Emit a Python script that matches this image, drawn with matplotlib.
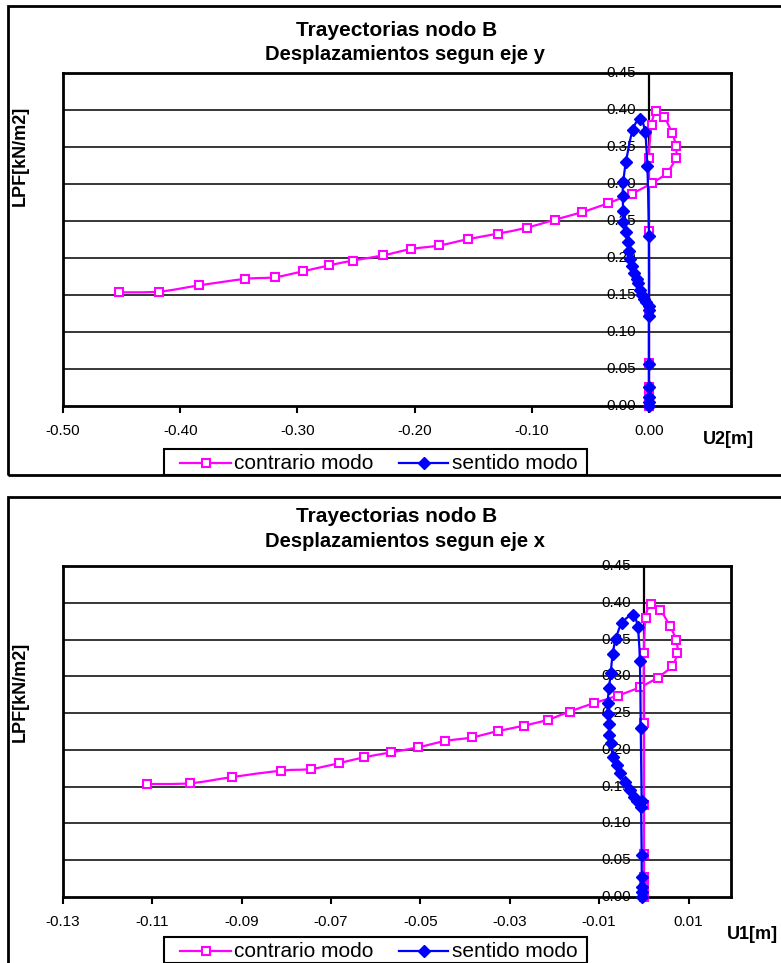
import numpy as np
import matplotlib
matplotlib.use("Agg")
import matplotlib.pyplot as plt
from matplotlib.lines import Line2D
from matplotlib.patches import Rectangle, PathPatch
from matplotlib.path import Path
from matplotlib.transforms import offset_copy

plt.rcParams['font.family'] = ['Liberation Sans', 'DejaVu Sans']

# ---------------- data ----------------
title = "Trayectorias nodo B"
subtitle_top = "Desplazamientos segun eje y"
subtitle_bot = "Desplazamientos segun eje x"
series_names = ["contrario modo", "sentido modo"]
ylabel = "LPF[kN/m2]"
xlabel_top = "U2[m]"
xlabel_bot = "U1[m]"

yticks = [0.00, 0.05, 0.10, 0.15, 0.20, 0.25, 0.30, 0.35, 0.40, 0.45]
xticks_top = [-0.50, -0.40, -0.30, -0.20, -0.10, 0.00]
xticks_bot = [-0.13, -0.11, -0.09, -0.07, -0.05, -0.03, -0.01, 0.01]

# Top chart (U2) - contrario modo
u2_contra_x = [0.0, 0.0, 0.0, 0.0, 0.0, 0.0, 0.0, 0.0, 0.0023, 0.006, 0.0128, 0.0196,
               0.023, 0.0227, 0.015, 0.0023, -0.0147, -0.035, -0.057, -0.080, -0.104,
               -0.1287, -0.1542, -0.1788, -0.2032, -0.2273, -0.2526, -0.273, -0.2953,
               -0.3195, -0.3444, -0.3838, -0.4178, -0.4518]
u2_contra_y = [0.0, 0.005, 0.013, 0.026, 0.058, 0.126, 0.237, 0.335, 0.380, 0.399, 0.391,
               0.369, 0.352, 0.335, 0.315, 0.301, 0.287, 0.274, 0.262, 0.252, 0.241,
               0.233, 0.2255, 0.217, 0.212, 0.2034, 0.1966, 0.190, 0.182, 0.174,
               0.1718, 0.163, 0.1546, 0.1536]
# Top chart (U2) - sentido modo
u2_sent_x = [0.0, 0.0, 0.0, 0.0, 0.0, 0.0, 0.0, -0.0026, -0.004, -0.0062, -0.0075, -0.009,
             -0.0105, -0.0128, -0.0145, -0.016, -0.017, -0.018, -0.020, -0.022, -0.022,
             -0.0224, -0.0219, -0.0196, -0.0139, -0.0074, -0.0034, -0.0014, 0.0, 0.0]
u2_sent_y = [0.0, 0.005, 0.0126, 0.026, 0.0565, 0.121, 0.135, 0.141, 0.145, 0.150, 0.157,
             0.166, 0.172, 0.180, 0.189, 0.198, 0.209, 0.221, 0.235, 0.248, 0.264,
             0.284, 0.303, 0.330, 0.373, 0.388, 0.370, 0.324, 0.230, 0.130]

# Bottom chart (U1) - contrario modo
u1_contra_x = [0.0, 0.0, 0.0, 0.0, 0.0, 0.0, 0.0, 0.0, 0.0004, 0.0015, 0.0036, 0.0058,
               0.0072, 0.0075, 0.0063, 0.0031, -0.0009, -0.0058, -0.0112, -0.0166, -0.0215,
               -0.0268, -0.0327, -0.0385, -0.0445, -0.0506, -0.0566, -0.0626, -0.0682,
               -0.0745, -0.0812, -0.0922, -0.1016, -0.1112]
u1_contra_y = [0.0, 0.005, 0.014, 0.027, 0.059, 0.125, 0.236, 0.332, 0.3796, 0.3977, 0.3905,
               0.3687, 0.3497, 0.3324, 0.3143, 0.2984, 0.2853, 0.2739, 0.2635, 0.2521,
               0.241, 0.233, 0.2255, 0.217, 0.212, 0.2034, 0.1966, 0.190, 0.182, 0.174,
               0.1718, 0.163, 0.1546, 0.1536]
# Bottom chart (U1) - sentido modo
u1_sent_x = [-0.0005, -0.0005, -0.0005, -0.0005, -0.0005, -0.0007, -0.0015, -0.0022, -0.0031,
             -0.0043, -0.0054, -0.0061, -0.0069, -0.0074, -0.0078, -0.0078, -0.0081, -0.0081,
             -0.0078, -0.0074, -0.0070, -0.0063, -0.0049, -0.0025, -0.0014, -0.0009,
             -0.0007, -0.0005]
u1_sent_y = [0.0, 0.007, 0.014, 0.0276, 0.0571, 0.122, 0.131, 0.1365, 0.1456, 0.157, 0.168,
             0.1796, 0.191, 0.209, 0.2204, 0.2354, 0.249, 0.264, 0.284, 0.305, 0.3297,
             0.3506, 0.3724, 0.3832, 0.367, 0.3215, 0.2295, 0.130]

PINK = "#FF00FF"
BLUE = "#0000FF"
PINK_MARK = dict(marker='s', ms=5.5, mfc='white', mec=PINK, mew=1.5)
BLUE_MARK = dict(marker='D', ms=6.5, mfc=BLUE, mec=BLUE)

W, H = 781, 963
fig = plt.figure(figsize=(W / 100, H / 100), dpi=100)


def fx(px):
    return px / W


def fy(py):
    return 1 - py / H


def smooth_path(xs, ys):
    """Excel-like smoothed line: cubic Bezier segments through the data points."""
    p = np.column_stack([xs, ys]).astype(float)
    n = len(p)
    verts = [p[0]]
    codes = [Path.MOVETO]
    for i in range(n - 1):
        p0 = p[i - 1] if i > 0 else p[i]
        p1 = p[i]
        p2 = p[i + 1]
        p3 = p[i + 2] if i + 2 < n else p[i + 1]
        c1 = p1 + (p2 - p0) / 6.0
        c2 = p2 - (p3 - p1) / 6.0
        verts += [c1, c2, p2]
        codes += [Path.CURVE4] * 3
    return Path(verts, codes)


def legend_box(top, bottom):
    fig.patches.append(Rectangle((fx(164), fy(bottom)), (587 - 164) / W, (bottom - top) / H,
                                 transform=fig.transFigure, fill=True, facecolor='white',
                                 lw=1.5, edgecolor='black', zorder=5))
    yc = fy((top + bottom) / 2 + 1)
    fig.lines.append(Line2D([fx(180), fx(231)], [yc, yc], transform=fig.transFigure,
                            color=PINK, lw=1.6, zorder=6))
    fig.lines.append(Line2D([fx(205.5)], [yc], transform=fig.transFigure, linestyle='none',
                            zorder=7, **PINK_MARK))
    fig.lines.append(Line2D([fx(399), fx(448)], [yc, yc], transform=fig.transFigure,
                            color=BLUE, lw=1.6, zorder=6))
    fig.lines.append(Line2D([fx(423.5)], [yc], transform=fig.transFigure, linestyle='none',
                            zorder=7, **BLUE_MARK))
    fig.text(fx(234), yc, series_names[0], ha='left', va='center', fontsize=15, zorder=8)
    fig.text(fx(452), yc, series_names[1], ha='left', va='center', fontsize=15, zorder=8)


def make_chart(top_px, bot_px, xlim, xticks, cx, cy, sx, sy, sub, title_y, sub_y,
               xlab, xlab_pos, ylab_y, leg_top, leg_bot):
    ax = fig.add_axes([fx(63), fy(bot_px), (731 - 63) / W, (bot_px - top_px) / H])
    ax.set_xlim(*xlim)
    ax.set_ylim(0, 0.45)
    for s in ax.spines.values():
        s.set_linewidth(2)
        s.set_color('black')
    for v in yticks[1:-1]:
        ax.axhline(v, color='black', lw=1.1, zorder=1)
    ax.axvline(0, color='black', lw=1.6, zorder=2)
    ax.set_xticks(xticks)
    ax.set_xticklabels([f"{t:.2f}" for t in xticks])
    ax.tick_params(axis='x', direction='out', length=5, width=1.5, pad=8, labelsize=11)
    ax.tick_params(axis='y', left=False, labelleft=False)
    trans = offset_copy(ax.transData, fig=fig, x=-13, y=0, units='dots')
    for v in yticks:
        ax.text(0, v, f"{v:.2f}", transform=trans, ha='right', va='center',
                fontsize=11, zorder=2.5, clip_on=False)
    ax.add_patch(PathPatch(smooth_path(cx, cy), fill=False, edgecolor=PINK, lw=1.6,
                           zorder=3, clip_on=False))
    ax.plot(cx, cy, linestyle='none', zorder=3.5, clip_on=False, **PINK_MARK)
    ax.add_patch(PathPatch(smooth_path(sx, sy), fill=False, edgecolor=BLUE, lw=1.6,
                           zorder=4, clip_on=False))
    ax.plot(sx, sy, linestyle='none', zorder=4.5, clip_on=False, **BLUE_MARK)
    fig.text(fx(397), fy(title_y), title, ha='center', va='center', fontsize=15,
             fontweight='bold')
    fig.text(fx(405), fy(sub_y), sub, ha='center', va='center', fontsize=14.5,
             fontweight='bold')
    fig.text(fx(xlab_pos[0]), fy(xlab_pos[1]), xlab, ha='center', va='center',
             fontsize=13, fontweight='bold')
    fig.text(fx(20), fy(ylab_y), ylabel, ha='center', va='center', rotation=90,
             fontsize=13, fontweight='bold')
    legend_box(leg_top, leg_bot)
    return ax


make_chart(73, 406, (-0.5, 0.07), xticks_top, u2_contra_x, u2_contra_y,
           u2_sent_x, u2_sent_y, subtitle_top, 30, 55, xlabel_top, (728, 440), 156, 449, 475)
make_chart(566, 897, (-0.13, 0.0195), xticks_bot, u1_contra_x, u1_contra_y,
           u1_sent_x, u1_sent_y, subtitle_bot, 517, 541, xlabel_bot, (752, 934), 692, 937, 963)

fig.patches.append(Rectangle((fx(8), fy(475)), 1.0, (475 - 6) / H, transform=fig.transFigure,
                             fill=False, lw=2, edgecolor='black', zorder=4))
fig.patches.append(Rectangle((fx(8), fy(1000)), 1.0, (1000 - 497) / H,
                             transform=fig.transFigure, fill=False, lw=2, edgecolor='black',
                             zorder=4))

fig.savefig("out.png", dpi=100)
